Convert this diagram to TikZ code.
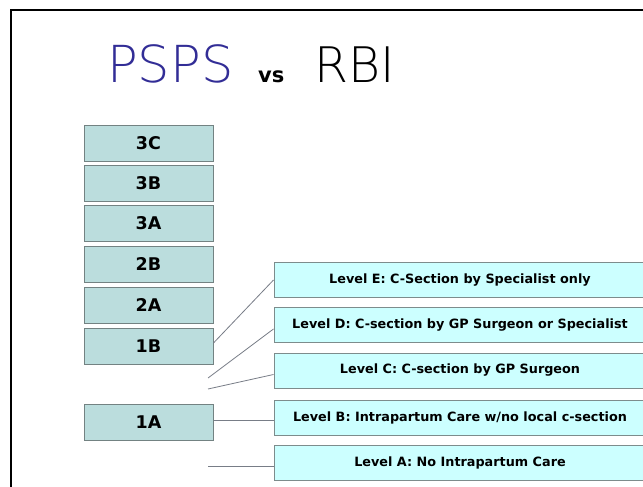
\documentclass[tikz,border=0pt]{standalone}
\usepackage{fontspec}
\setmainfont{DejaVu Sans}
\newfontfamily\titlefont{DejaVu Sans ExtraLight}
\definecolor{pspsblue}{RGB}{50,45,150}
\definecolor{oldfill}{RGB}{187,221,221}
\definecolor{oldline}{RGB}{115,130,130}
\definecolor{newfill}{RGB}{204,255,255}
\definecolor{newline}{RGB}{125,140,140}
\definecolor{linkgray}{RGB}{120,125,135}
\tikzset{
  oldbox/.style={draw=oldline, fill=oldfill, line width=1pt,
    minimum width=129pt, minimum height=36pt, inner sep=0pt,
    font=\fontsize{17.5}{17.5}\bfseries\selectfont},
  newbox/.style={draw=newline, fill=newfill, line width=1pt,
    minimum width=372pt, minimum height=35pt, inner sep=0pt,
    font=\fontsize{12.8}{12.8}\bfseries\selectfont},
  link/.style={draw=linkgray, line width=0.8pt}
}
\begin{document}
\begin{tikzpicture}[x=1pt, y=-1pt]
  \clip (0,0) rectangle (643,487);
  \fill[white] (0,0) rectangle (643,487);
  % frame
  \draw[line width=2pt] (11,487) -- (11,10) -- (643,10);
  % title
  \node[anchor=base west, inner sep=0pt, text=pspsblue,
    font=\titlefont\fontsize{51}{51}\selectfont] (psps) at (107,83) {PSPS};
  \node[anchor=base west, inner sep=0pt,
    font=\fontsize{21}{21}\bfseries\selectfont] (vs) at (258,83) {vs};
  \node[anchor=base west, inner sep=0pt,
    font=\titlefont\fontsize{49}{49}\selectfont] (rbi) at (314,83) {RBI};
  % PSPS levels
  \draw
    (148.5,143) node[oldbox] (3C){3C}
    (148.5,183) node[oldbox] (3B){3B}
    (148.5,223.5) node[oldbox] (3A){3A}
    (148.5,264.5) node[oldbox] (2B){2B}
    (148.5,305.5) node[oldbox] (2A){2A}
    (148.5,346) node[oldbox] (1B){1B}
    (148.5,422) node[oldbox] (1A){1A};
  % RBI levels
  \draw
    (460,280) node[newbox] (E){Level E: C-Section by Specialist only}
    (460,325) node[newbox] (D){Level D: C-section by GP Surgeon or Specialist}
    (460,370.5) node[newbox] (C){Level C: C-section by GP Surgeon}
    (460,418) node[newbox] (B){Level B: Intrapartum Care w/no local c-section}
    (460,463) node[newbox] (A){Level A: No Intrapartum Care};
  \coordinate (d0) at (208,378);
  \coordinate (c0) at (208,389);
  \coordinate (a0) at (208,466);
  \begin{scope}[link]
    \draw ([yshift=3pt]1B.east) to (E.west);
    \draw (d0) to ([yshift=-4pt]D.west);
    \draw (c0) to ([yshift=-4pt]C.west);
    \draw ([yshift=2pt]1A.east) to ([yshift=-2pt]B.west);
    \draw (a0) to ([yshift=-3pt]A.west);
  \end{scope}
\end{tikzpicture}
\end{document}
